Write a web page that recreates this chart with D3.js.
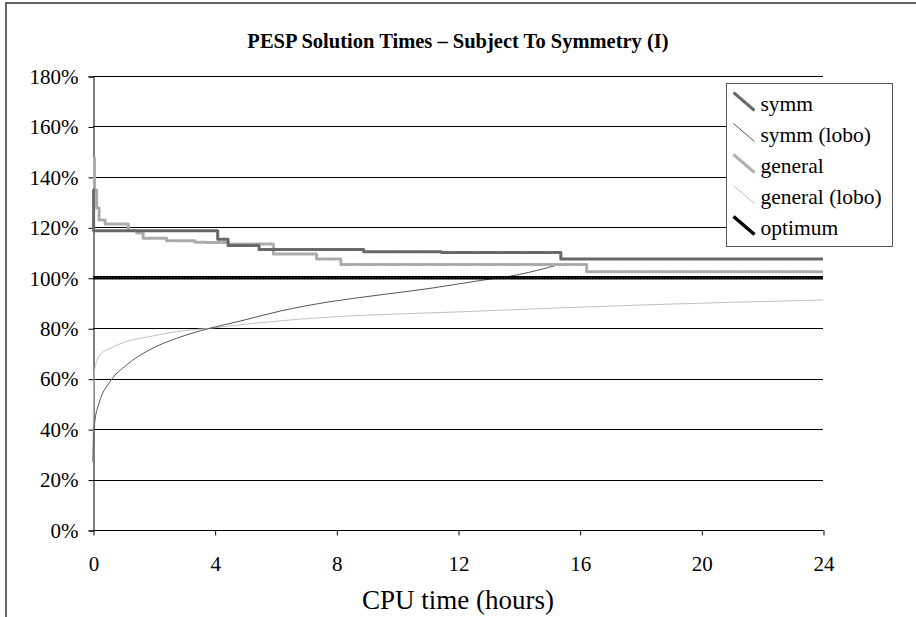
<!DOCTYPE html>
<html>
<head>
<meta charset="utf-8">
<script src="https://cdn.jsdelivr.net/npm/d3@7"></script>
<style>
  body { margin: 0; background: #fff; }
  svg { display: block; font-family: "Liberation Serif", "DejaVu Serif", serif; }
</style>
</head>
<body>
<div id="chart"></div>
<script>
// data (hours, percent of optimum)
const xTicks = [0, 4, 8, 12, 16, 20, 24];
const yTicks = [0, 20, 40, 60, 80, 100, 120, 140, 160, 180];

const symmHours = [0, 0.02, 4.1, 4.44, 5.46, 8.9, 11.46, 15.38, 24];
const symmValues = [135, 118.6, 115.3, 112.8, 111.2, 110.3, 110.0, 107.4, 107.4];

const generalHours = [0, 0.05, 0.12, 0.2, 0.4, 1.16, 1.44, 1.65, 2.42, 3.35, 3.74, 4.45, 5.93, 7.35, 8.15, 16.23, 24];
const generalValues = [147.5, 134.8, 127.7, 122.9, 121.3, 118.7, 117.8, 115.7, 114.7, 114.1, 114.0, 113.4, 109.4, 107.4, 105.3, 102.4, 102.4];

const symmLoboHours = [0, 0.02, 0.06, 0.2, 0.56, 1.1, 1.87, 2.75, 3.85, 4.83, 6.15, 7.79, 9.43, 11.08, 12.72, 13.93, 15.46];
const symmLoboValues = [27, 38, 43, 50.3, 58.8, 65.4, 71.5, 76, 80, 82.8, 86.8, 90.5, 93.2, 95.8, 98.9, 101.1, 105.7];

const generalLoboHours = [0, 0.02, 0.06, 0.23, 0.56, 1.1, 1.87, 2.75, 3.85, 5.49, 6.7, 12.72, 18, 24];
const generalLoboValues = [27, 55, 64, 69.4, 72, 74.7, 76.7, 78.7, 80, 82.2, 83.5, 86.8, 89.2, 91.2];

const optimumHours = [0, 24];
const optimumValues = [100, 100];

const legendNames = ['symm', 'symm (lobo)', 'general', 'general (lobo)', 'optimum'];

function Chart() {
  const W = 916;
  const H = 617;
  const plot = { l: 93, r: 823, t: 76, b: 530 };

  const scaleX = d3.scaleLinear().domain([0, 24]).range([plot.l, plot.r]);
  const scaleY = d3.scaleLinear().domain([0, 180]).range([plot.b, plot.t]);

  const styles = [
    { color: '#6b6b6b', width: 3, curve: d3.curveStepAfter },
    { color: '#555555', width: 1, curve: d3.curveMonotoneX },
    { color: '#b0b0b0', width: 3, curve: d3.curveStepAfter },
    { color: '#c0c0c0', width: 1, curve: d3.curveMonotoneX },
    { color: '#000000', width: 3.5, curve: d3.curveLinear }
  ];

  const series = [
    d3.zip(symmHours, symmValues),
    d3.zip(symmLoboHours, symmLoboValues),
    d3.zip(generalHours, generalValues),
    d3.zip(generalLoboHours, generalLoboValues),
    d3.zip(optimumHours, optimumValues)
  ];

  const svg = d3.select('#chart').append('svg')
    .attr('width', W)
    .attr('height', H);

  // outer frame (top and left edges only are visible)
  svg.append('path')
    .attr('d', `M6,${H} L6,3 L${W},3`)
    .attr('fill', 'none')
    .attr('stroke', '#333')
    .attr('stroke-width', 1.5);

  svg.append('text')
    .attr('x', 458)
    .attr('y', 48)
    .attr('text-anchor', 'middle')
    .attr('font-size', 20.5)
    .attr('font-weight', 'bold')
    .text('PESP Solution Times \u2013 Subject To Symmetry (I)');

  // gridlines
  svg.append('g')
    .selectAll('line')
    .data(yTicks.filter(d => d > 0))
    .join('line')
    .attr('x1', plot.l)
    .attr('x2', plot.r)
    .attr('y1', d => Math.round(scaleY(d)) + 0.5)
    .attr('y2', d => Math.round(scaleY(d)) + 0.5)
    .attr('stroke', '#000')
    .attr('stroke-width', 1);

  // Axes
  const yAxis = d3.axisLeft(scaleY)
    .tickValues(yTicks)
    .tickFormat(d => d + '%')
    .tickSize(5)
    .tickPadding(10);
  const xAxis = d3.axisBottom(scaleX)
    .tickValues(xTicks)
    .tickSize(5)
    .tickPadding(21);

  const gy = svg.append('g')
    .attr('transform', `translate(${plot.l + 0.5}, 0.5)`)
    .call(yAxis);
  const gx = svg.append('g')
    .attr('transform', `translate(0.5, ${plot.b + 0.5})`)
    .call(xAxis);

  [gx, gy].forEach(g => {
    g.select('.domain').attr('stroke', '#000');
    g.selectAll('.tick line').attr('stroke', '#000');
    g.selectAll('.tick text')
      .attr('fill', '#000')
      .attr('font-size', 21)
      .attr('font-family', '"Liberation Serif", serif');
  });
  gx.select('.domain').attr('d', `M${plot.l},0H${plot.r}`);

  svg.append('text')
    .attr('x', 458)
    .attr('y', 609)
    .attr('text-anchor', 'middle')
    .attr('font-size', 27)
    .text('CPU time (hours)');

  // series lines, optimum last so it sits on top
  const order = [3, 1, 2, 0, 4];
  order.forEach(i => {
    const line = d3.line()
      .x(d => scaleX(d[0]))
      .y(d => scaleY(d[1]))
      .curve(styles[i].curve);
    svg.append('path')
      .datum(series[i])
      .attr('fill', 'none')
      .attr('stroke', styles[i].color)
      .attr('stroke-width', styles[i].width)
      .attr('stroke-linejoin', 'round')
      .attr('d', line);
    if (styles[i].width >= 3) {
      // dotted texture seen on the thick lines
      svg.append('path')
        .datum(series[i])
        .attr('fill', 'none')
        .attr('stroke', i === 4 ? '#444' : d3.color(styles[i].color).darker(0.5))
        .attr('stroke-width', 1)
        .attr('stroke-dasharray', '1,2')
        .attr('d', line);
    }
  });

  // legend
  const lg = svg.append('g').attr('transform', 'translate(726.5, 83.5)');
  lg.append('rect')
    .attr('width', 166)
    .attr('height', 163)
    .attr('fill', '#fff')
    .attr('stroke', '#555')
    .attr('stroke-width', 1);

  const item = lg.selectAll('g.item')
    .data(legendNames)
    .join('g')
    .attr('class', 'item')
    .attr('transform', (d, i) => `translate(0, ${20 + i * 31})`);

  item.append('line')
    .attr('x1', 7)
    .attr('y1', -11)
    .attr('x2', 28)
    .attr('y2', 7)
    .attr('stroke', (d, i) => styles[i].color)
    .attr('stroke-width', (d, i) => styles[i].width);

  item.append('text')
    .attr('x', 34)
    .attr('y', 7)
    .attr('font-size', 21.5)
    .text(d => d);
}

Chart();
</script>
</body>
</html>
